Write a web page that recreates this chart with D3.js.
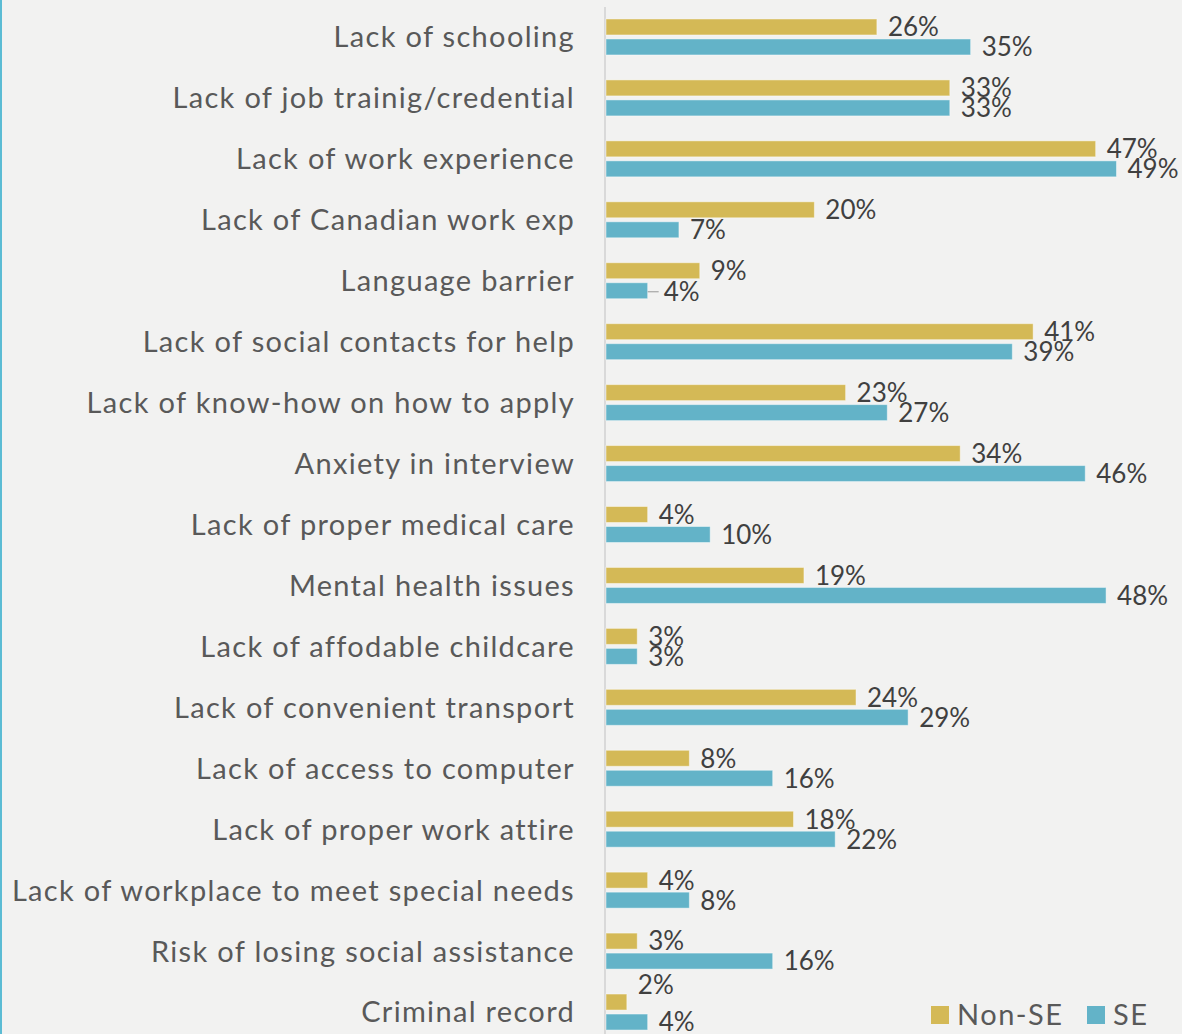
<!DOCTYPE html>
<html>
<head>
<meta charset="utf-8">
<script src="https://cdn.jsdelivr.net/npm/d3@7"></script>
<style>
  html, body { margin: 0; padding: 0; background: #f2f2f1; }
  svg { display: block; }
</style>
</head>
<body>
<svg id="chart" width="1182" height="1034"></svg>
<script>
// Barriers to employment, share of respondents by group
const categories = [
  "Lack of schooling",
  "Lack of job trainig/credential",
  "Lack of work experience",
  "Lack of Canadian work exp",
  "Language barrier",
  "Lack of social contacts for help",
  "Lack of know-how on how to apply",
  "Anxiety in interview",
  "Lack of proper medical care",
  "Mental health issues",
  "Lack of affodable childcare",
  "Lack of convenient transport",
  "Lack of access to computer",
  "Lack of proper work attire",
  "Lack of workplace to meet special needs",
  "Risk of losing social assistance",
  "Criminal record"
];
const seriesNames = ["Non-SE", "SE"];
const nonSE = [26, 33, 47, 20, 9, 41, 23, 34, 4, 19, 3, 24, 8, 18, 4, 3, 2];
const se    = [35, 33, 49, 7, 4, 39, 27, 46, 10, 48, 3, 29, 16, 22, 8, 16, 4];
const colors = ["#d4b956", "#63b3c8"];

const svg = d3.select("#chart");
const W = 1182, H = 1034;
const FONT = "Lato, 'Open Sans', sans-serif";

// left frame edge
svg.append("rect").attr("x", 0).attr("y", 0).attr("width", 2).attr("height", H).attr("fill", "#5bbcd4");

const x = d3.scaleLinear().domain([0, 49]).range([605, 1115.5]);
const y = d3.scaleBand().domain(categories).range([6.5, 1042.5]).paddingInner(0).paddingOuter(0);
const ySub = d3.scaleBand().domain(seriesNames).range([0, 36]).paddingInner(0.2).paddingOuter(0);

const rows = categories.map((c, i) => ({ cat: c, vals: [nonSE[i], se[i]] }));
const groupTop = c => y(c) + y.bandwidth() / 2 - 18;

// category axis line
svg.append("line")
  .attr("x1", 605).attr("x2", 605).attr("y1", 7).attr("y2", H)
  .attr("stroke", "#d9d9d9").attr("stroke-width", 2);

// bars
const g = svg.append("g");
rows.forEach(r => {
  r.vals.forEach((v, k) => {
    g.append("rect")
      .attr("x", x(0) + 1)
      .attr("y", groupTop(r.cat) + ySub(seriesNames[k]))
      .attr("width", x(v) - x(0))
      .attr("height", ySub.bandwidth())
      .attr("fill", colors[k])
      .attr("stroke", "rgba(255,255,255,0.45)")
      .attr("stroke-width", 1);
  });
});

// a couple of labels nudged off crowded spots
const nudges = {
  "Language barrier|SE": { dx: 5, dy: 1, leader: true },
  "Criminal record|Non-SE": { dx: 0, dy: -17 }
};

rows.forEach(r => {
  r.vals.forEach((v, k) => {
    const key = r.cat + "|" + seriesNames[k];
    const n = nudges[key] || { dx: 0, dy: 0 };
    const cy = groupTop(r.cat) + ySub(seriesNames[k]) + ySub.bandwidth() / 2;
    const lx = x(v) + 12 + n.dx;
    if (n.leader) {
      svg.append("line")
        .attr("x1", x(v) + 1).attr("x2", lx - 5)
        .attr("y1", cy + n.dy).attr("y2", cy + n.dy)
        .attr("stroke", "#a6a6a6").attr("stroke-width", 1.2);
    }
    svg.append("text")
      .attr("x", lx)
      .attr("y", cy + n.dy)
      .attr("dy", "0.36em")
      .attr("font-family", FONT)
      .attr("font-size", 26)
      .attr("fill", "#404040")
      .text(v + "%");
  });
});

// category labels, right aligned against the axis
const catLabels = svg.append("g").selectAll("text")
  .data(categories).join("text")
  .attr("x", 575)
  .attr("y", d => y(d) + y.bandwidth() / 2)
  .attr("dy", "0.36em")
  .attr("text-anchor", "end")
  .attr("font-family", FONT)
  .attr("font-size", 29)
  .attr("fill", "#595959")
  .text(d => d);

// open the tracking so the longest label reaches the left margin
const longest = d3.max(catLabels.nodes(), n => n.getComputedTextLength());
const longestNode = catLabels.nodes().find(n => n.getComputedTextLength() === longest);
const spacing = (563 - longest) / (longestNode.textContent.length);
catLabels.attr("letter-spacing", spacing.toFixed(2) + "px");

// legend
const legend = svg.append("g");
const legendItems = [
  { name: seriesNames[0], color: colors[0], x: 931 },
  { name: seriesNames[1], color: colors[1], x: 1087 }
];
legendItems.forEach(it => {
  legend.append("rect").attr("x", it.x).attr("y", 1006).attr("width", 18).attr("height", 18).attr("fill", it.color);
  legend.append("text")
    .attr("x", it.x + 26).attr("y", 1015).attr("dy", "0.36em")
    .attr("font-family", FONT).attr("font-size", 29).attr("fill", "#595959")
    .attr("letter-spacing", "1.5px")
    .text(it.name);
});
</script>
</body>
</html>
